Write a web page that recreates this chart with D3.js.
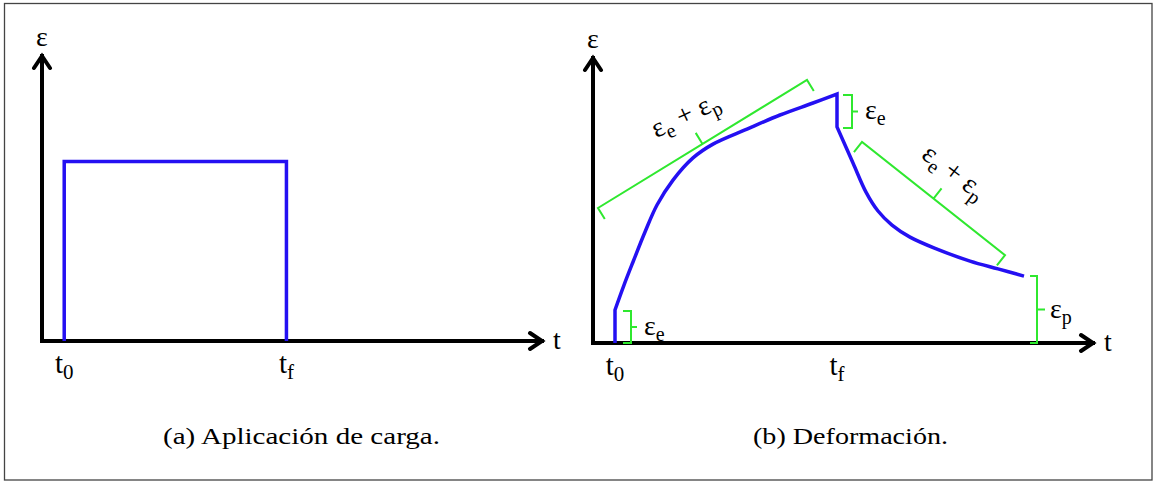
<!DOCTYPE html>
<html>
<head>
<meta charset="utf-8">
<script src="https://cdn.jsdelivr.net/npm/d3@7"></script>
<style>
  html, body { margin: 0; padding: 0; background: #fff; }
  svg { display: block; }
  .serif { font-family: "Liberation Serif", "Tinos", "Times New Roman", Times, "Nimbus Roman", serif; }
</style>
</head>
<body>
<svg id="fig" width="1155" height="481"></svg>
<script>
// ---- Panel (a): applied load pulse ----
const loadTimes = [1, 11];          // t0, tf
const loadLevel = 6.3;

// ---- Panel (b): strain response ----
const startTime = 4.4;              // t0
const endTime = 48.8;               // tf
const instantStrain = 11;           // elastic jump at t0
const creepCurve = [
  [4.4, 11], [6.2, 19.3], [8, 27], [10.4, 37], [12.8, 46], [16, 54.3],
  [20, 61.7], [24, 66.3], [30.8, 71.3], [37.4, 76], [44, 80], [48.8, 83]
];
const recoveryCurve = [
  [48.8, 72], [52, 60], [54.6, 50.3], [57, 44], [59.8, 39.3], [63.4, 35.3],
  [68.8, 31.3], [75.4, 27.3], [81, 24.7], [86.2, 22.3]
];

// axis tick labels (base letter + subscript) and captions
const ticksA = [["t", "0", loadTimes[0]], ["t", "f", loadTimes[1]]];
const ticksB = [["t", "0", startTime], ["t", "f", endTime]];
const captions = ["(a) Aplicación de carga.", "(b) Deformación."];

// bracket annotations on panel (b): [from, to] in (t, ε) units
const bracketCreep     = [[1, 45], [42.8, 87.7]];
const bracketElastic   = [[51.8, 82.7], [51.8, 71.7]];
const bracketRecovery  = [[53.8, 67], [82.4, 29.3]];
const bracketPermanent = [[88.8, 22.3], [88.8, 0]];
const bracketInstant   = [[7.6, 10.7], [7.6, 0]];

const BLUE = "#2410f2";
const GREEN = "#2fe82f";

const svg = d3.select("#fig");

// frame around the whole figure
svg.append("rect")
  .attr("x", 4.5).attr("y", 3.5)
  .attr("width", 1147.5).attr("height", 476.5)
  .attr("fill", "none").attr("stroke", "#444").attr("stroke-width", 1.3);

// scales
const xA = d3.scaleLinear().domain([0, 22.5]).range([42, 542]);
const yA = d3.scaleLinear().domain([0, 10]).range([341, 56]);
const xB = d3.scaleLinear().domain([0, 100]).range([593, 1093]);
const yB = d3.scaleLinear().domain([0, 95]).range([343, 58]);

function axes(g, x, y) {
  const x0 = x.range()[0], x1 = x.range()[1];
  const y0 = y.range()[0], y1 = y.range()[1];
  const a = 12, w = 8;
  g.append("path")
    .attr("d", `M${x0},${y1} L${x0},${y0} L${x1},${y0}`)
    .attr("fill", "none").attr("stroke", "#000").attr("stroke-width", 4)
    .attr("stroke-linejoin", "miter").attr("stroke-linecap", "square");
  g.append("path")
    .attr("d", `M${x0 - w},${y1 + a} L${x0},${y1} L${x0 + w},${y1 + a}` +
               `M${x1 - a},${y0 - w} L${x1},${y0} L${x1 - a},${y0 + w}`)
    .attr("fill", "none").attr("stroke", "#000").attr("stroke-width", 4)
    .attr("stroke-linejoin", "miter").attr("stroke-linecap", "round");
  g.append("text").attr("class", "serif")
    .attr("x", x0).attr("y", y1 - 10)
    .attr("text-anchor", "middle").attr("font-size", 28)
    .text("ε");
  g.append("text").attr("class", "serif")
    .attr("x", x1 + 11).attr("y", y0 + 8)
    .attr("font-size", 28)
    .text("t");
}

function tickLabels(g, x, y, ticks, dyBase) {
  ticks.forEach(([b, s, v]) => {
    const t = g.append("text").attr("class", "serif")
      .attr("x", x(v)).attr("y", y.range()[0] + dyBase)
      .attr("text-anchor", "middle").attr("font-size", 29);
    t.append("tspan").text(b);
    t.append("tspan").attr("dy", 6).attr("font-size", 21).text(s);
  });
}

// ---------- Panel (a) ----------
const gA = svg.append("g");
axes(gA, xA, yA);
gA.append("path")
  .attr("d", d3.line().x(d => xA(d[0])).y(d => yA(d[1]))([
    [loadTimes[0], 0], [loadTimes[0], loadLevel],
    [loadTimes[1], loadLevel], [loadTimes[1], 0]
  ]))
  .attr("fill", "none").attr("stroke", BLUE).attr("stroke-width", 3.5)
  .attr("stroke-linejoin", "miter");
tickLabels(gA, xA, yA, ticksA, 32);

// ---------- Panel (b) ----------
const gB = svg.append("g");
axes(gB, xB, yB);

const lin = d3.line().x(d => xB(d[0])).y(d => yB(d[1]));
const smooth = d3.line().x(d => xB(d[0])).y(d => yB(d[1])).curve(d3.curveCatmullRom.alpha(0.5));
const pieces = [
  lin([[startTime, 0], [startTime, instantStrain]]),
  smooth(creepCurve),
  lin([creepCurve[creepCurve.length - 1], recoveryCurve[0]]),
  smooth(recoveryCurve)
];
const strainPath = pieces.map((p, i) => i === 0 ? p : "L" + p.slice(1)).join("");
gB.append("path")
  .attr("d", strainPath)
  .attr("fill", "none").attr("stroke", BLUE).attr("stroke-width", 3.5)
  .attr("stroke-linejoin", "miter").attr("stroke-linecap", "butt");

tickLabels(gB, xB, yB, ticksB, 32);

// curly-bracket style annotation: ends turn toward the curve, notch points away
function bracket(pair, depth, notch) {
  const p1 = [xB(pair[0][0]), yB(pair[0][1])];
  const p2 = [xB(pair[1][0]), yB(pair[1][1])];
  const len = Math.hypot(p2[0] - p1[0], p2[1] - p1[1]);
  const u = [(p2[0] - p1[0]) / len, (p2[1] - p1[1]) / len];
  const n = [-u[1], u[0]];
  const m = [(p1[0] + p2[0]) / 2, (p1[1] + p2[1]) / 2];
  const d = `M${p1[0] + n[0] * depth},${p1[1] + n[1] * depth} L${p1[0]},${p1[1]} ` +
            `L${p2[0]},${p2[1]} L${p2[0] + n[0] * depth},${p2[1] + n[1] * depth} ` +
            `M${m[0]},${m[1]} L${m[0] - n[0] * notch},${m[1] - n[1] * notch}`;
  gB.append("path").attr("d", d)
    .attr("fill", "none").attr("stroke", GREEN).attr("stroke-width", 2)
    .attr("stroke-linejoin", "miter");
  return { m, n, u };
}

function epsLabel(g, parts) {
  const t = g.append("text").attr("class", "serif").attr("font-size", 28);
  parts.forEach(([main, sub], i) => {
    t.append("tspan").attr("dy", i === 0 ? 0 : -6).text(main);
    t.append("tspan").attr("dy", 6).attr("font-size", 20).text(sub);
  });
  return t;
}

// sloped brackets with "εe + εp"
[[bracketCreep, -25], [bracketRecovery, 37]].forEach(([pair, ang]) => {
  const b = bracket(pair, 13, 13);
  const cx = b.m[0] - b.n[0] * 30, cy = b.m[1] - b.n[1] * 30;
  const g = gB.append("g").attr("transform", `translate(${cx},${cy}) rotate(${ang})`);
  epsLabel(g, [["ε", "e"], [" + ε", "p"]])
    .attr("text-anchor", "middle").attr("y", 5);
});

// vertical brackets
[[bracketElastic, 9, 6, "e"], [bracketPermanent, 7, 8, "p"], [bracketInstant, 8, 6, "e"]]
  .forEach(([pair, depth, notch, sub]) => {
    const b = bracket(pair, depth, notch);
    const g = gB.append("g").attr("transform", `translate(${b.m[0] + 13},${b.m[1] + 8})`);
    epsLabel(g, [["ε", sub]]);
  });

// captions
[[captions[0], 301.5, 277], [captions[1], 850.5, 195]].forEach(([txt, cx, w]) => {
  svg.append("text").attr("class", "serif")
    .attr("x", cx - w / 2).attr("y", 444)
    .attr("font-size", 23.5)
    .attr("textLength", w).attr("lengthAdjust", "spacingAndGlyphs")
    .text(txt);
});
</script>
</body>
</html>
